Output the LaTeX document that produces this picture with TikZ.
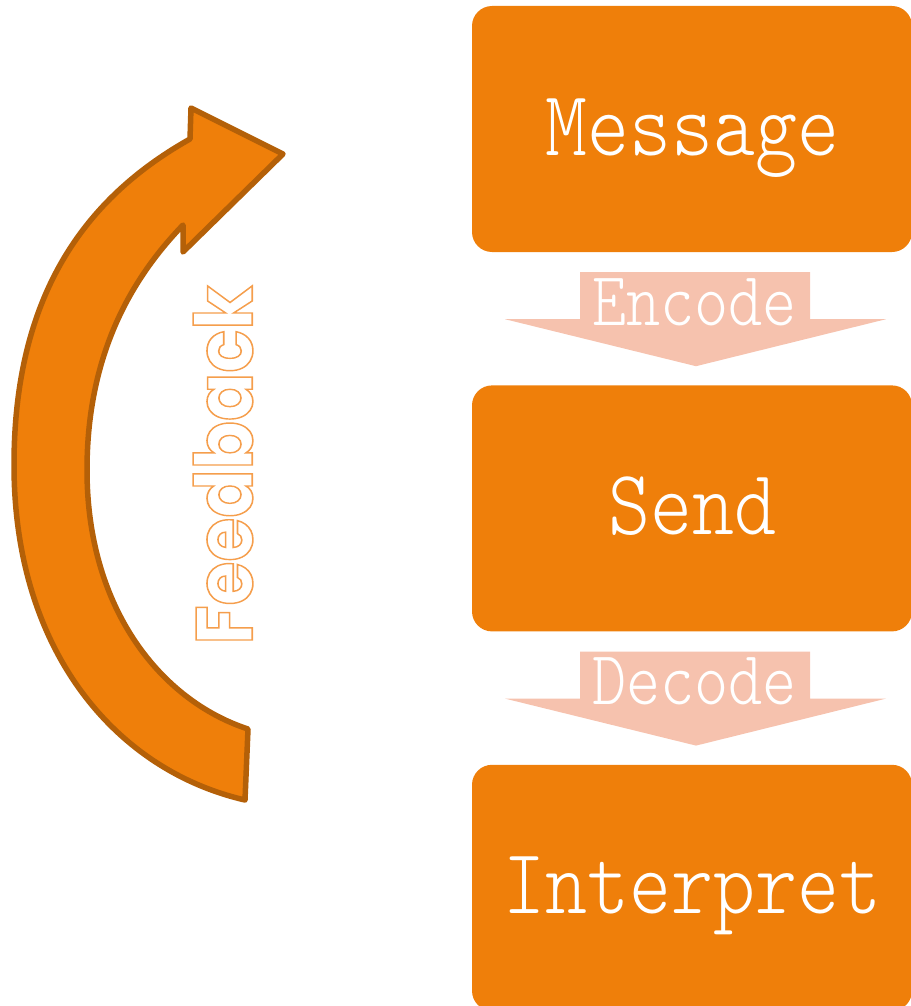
\documentclass[tikz,border=0pt]{standalone}
\usepackage{fontspec}
\usepackage{xcolor}
\usepackage{tikz}
\usetikzlibrary{positioning,calc}
\newfontfamily\fbfont{Poppins}
\newfontfamily\boxfont{Latin Modern Mono Light}
\definecolor{boxorange}{RGB}{239,127,10}
\definecolor{flowpink}{RGB}{246,194,174}
\definecolor{rimbrown}{RGB}{180,96,8}

\begin{document}
\begin{tikzpicture}[
  x=1pt,y=-1pt,
  node distance=133pt,
  box/.style={fill=boxorange,rounded corners=20pt,minimum width=440pt,minimum height=246pt,inner sep=0pt,
    text=white,font=\boxfont\fontsize{80}{80}\selectfont,text height=60pt,text depth=8pt},
  flow/.style={fill=flowpink},
  lbl/.style={anchor=base,inner sep=0pt,text=white,font=\boxfont\fontsize{65}{65}\selectfont},
  fbarrow/.style={fill=boxorange,draw=rimbrown,line width=5.5pt,line join=round},
  fbtext/.style={rotate=90,inner sep=0pt,text=white,font=\fbfont\bfseries\fontsize{80}{80}\selectfont}
]
\useasboundingbox (0,0) rectangle (910,1006);
\node[box] (msg) at (692,129) {\scalebox{1}[1.16]{Message}};
\node[box,below=of msg] (snd) {\scalebox{1}[1.16]{Send}};
\node[box,below=of snd] (itp) {\scalebox{1}[1.16]{Interpret}};
\foreach \a/\t/\n in {msg/Encode/enc,snd/Decode/dec}{
  \fill[flow,shift={(\a.south)}] (-112,20) -- (118,20) -- (118,67) -- (194,67) -- (4,114) -- (-187,67) -- (-112,67) -- cycle;
  \node[lbl] (\n) at ($(\a.south)+(2.5,73)$) {\scalebox{1}[1.18]{\t}};
}
% feedback loop on the left
\draw[fbarrow] (245,800) .. controls (115,770) and (14,650) .. (14,465)
  .. controls (14,285) and (94,193) .. (190,139)
  -- (191,108) -- (283,154) -- (183,252) -- (183,225)
  .. controls (135,275) and (87,350) .. (87,470)
  .. controls (87,610) and (162,701) .. (248,729) -- cycle;
\node[fbtext] (fb) at (223,465) {\special{pdf:code 2 Tr 1.6 w 0.96 0.62 0.3 RG}\scalebox{0.89}[1]{Feedback}\special{pdf:code 0 Tr}};
\end{tikzpicture}
\end{document}
